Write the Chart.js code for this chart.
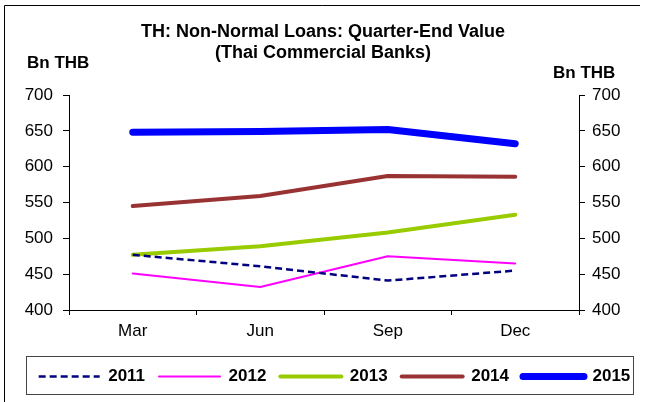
<!DOCTYPE html>
<html>
<head>
<meta charset="utf-8">
<script src="https://cdn.jsdelivr.net/npm/chart.js@4/dist/chart.umd.min.js"></script>
<style>
  html, body { margin: 0; padding: 0; background: #fff; }
  #wrap { width: 645px; height: 402px; position: relative; }
</style>
</head>
<body>
<div id="wrap"><canvas id="c" width="645" height="402"></canvas></div>
<script>
const categories = ['Mar', 'Jun', 'Sep', 'Dec'];
const seriesNames = ['2011', '2012', '2013', '2014', '2015'];
const v2011 = [477, 461, 441, 455];
const v2012 = [451, 432, 475, 465];
const v2013 = [477, 489, 508, 533];
const v2014 = [545, 559, 587, 586];
const v2015 = [648, 649, 652, 632];
const yTicks = [400, 450, 500, 550, 600, 650, 700];
const titleLines = ['TH: Non-Normal Loans: Quarter-End Value', '(Thai Commercial Banks)'];
const unitLabel = 'Bn THB';

const FONT = '"Liberation Sans", Arial, sans-serif';

const styles = [
  { color: '#000080', width: 2.5, dash: [7, 4], cap: 'butt' },
  { color: '#FF00FF', width: 2, dash: [], cap: 'round' },
  { color: '#99CC00', width: 4, dash: [], cap: 'round' },
  { color: '#993333', width: 4, dash: [], cap: 'round' },
  { color: '#0000FF', width: 7, dash: [], cap: 'round' }
];
const values = [v2011, v2012, v2013, v2014, v2015];

const datasets = seriesNames.map((name, i) => ({
  label: name,
  data: values[i],
  borderColor: styles[i].color,
  backgroundColor: styles[i].color,
  borderWidth: styles[i].width,
  borderDash: styles[i].dash,
  borderCapStyle: styles[i].cap,
  borderJoinStyle: 'round',
  pointRadius: 0,
  pointHoverRadius: 0,
  tension: 0,
  fill: false,
  yAxisID: 'y'
}));

const decor = {
  id: 'decor',
  afterDraw(chart) {
    const ctx = chart.ctx;
    ctx.save();
    // outer frame (top and left)
    ctx.strokeStyle = '#000';
    ctx.lineWidth = 1;
    ctx.beginPath();
    ctx.moveTo(4.5, 402);
    ctx.lineTo(4.5, 5.5);
    ctx.lineTo(640, 5.5);
    ctx.stroke();
    // titles
    ctx.fillStyle = '#000';
    ctx.textAlign = 'center';
    ctx.textBaseline = 'middle';
    ctx.font = 'bold 18px ' + FONT;
    const cx = 323;
    ctx.fillText(titleLines[0], cx, 32);
    ctx.fillText(titleLines[1], cx, 53);
    // unit labels
    ctx.font = 'bold 17px ' + FONT;
    ctx.textAlign = 'left';
    ctx.fillText(unitLabel, 27, 63);
    ctx.fillText(unitLabel, 553, 73);
    // legend frame
    const lg = chart.legend;
    ctx.strokeStyle = '#444';
    ctx.lineWidth = 1;
    ctx.strokeRect(lg.left + 2.5, lg.top + 2.5, lg.right - lg.left - 14, lg.bottom - lg.top - 3);
    ctx.restore();
  }
};

const yScaleCommon = {
  type: 'linear',
  min: 400,
  max: 700,
  afterBuildTicks(scale) { scale.ticks = yTicks.map(v => ({ value: v })); },
  grid: { display: true, drawOnChartArea: false, drawTicks: true, tickLength: 6, color: '#000' },
  border: { display: true, color: '#000', width: 1 },
  ticks: { color: '#000', font: { family: FONT, size: 17 } }
};

new Chart(document.getElementById('c'), {
  type: 'line',
  data: { labels: categories, datasets },
  options: {
    responsive: false,
    animation: false,
    devicePixelRatio: 1,
    layout: { padding: { left: 24, right: 0, top: 95, bottom: 7 } },
    plugins: {
      title: { display: false },
      tooltip: { enabled: false },
      legend: {
        display: true,
        position: 'bottom',
        fullSize: true,
        labels: {
          usePointStyle: true,
          pointStyle: 'line',
          pointStyleWidth: 61,
          padding: 14,
          color: '#000',
          font: { family: FONT, size: 17, weight: 'bold' },
          generateLabels(chart) {
            const items = Chart.defaults.plugins.legend.labels.generateLabels(chart);
            items.forEach(it => {
              const ds = chart.data.datasets[it.datasetIndex];
              it.lineDash = ds.borderDash;
              it.lineWidth = ds.borderWidth;
              it.lineCap = ds.borderCapStyle;
              it.strokeStyle = ds.borderColor;
              it.pointStyle = 'line';
            });
            return items;
          }
        }
      }
    },
    scales: {
      x: {
        type: 'category',
        offset: true,
        grid: { display: true, offset: true, drawOnChartArea: false, drawTicks: true, tickLength: 5, color: '#000' },
        border: { display: true, color: '#000', width: 1 },
        ticks: { color: '#000', padding: 6, font: { family: FONT, size: 17 }, maxRotation: 0 },
        afterFit(scale) { scale.height = 44; }
      },
      y: Object.assign({}, yScaleCommon, {
        position: 'left',
        ticks: Object.assign({}, yScaleCommon.ticks, { padding: 10 }),
        afterFit(scale) { scale.width = 45; }
      }),
      y2: Object.assign({}, yScaleCommon, {
        position: 'right',
        ticks: Object.assign({}, yScaleCommon.ticks, { padding: 7 }),
        afterFit(scale) { scale.width = 66; }
      })
    }
  },
  plugins: [decor]
});
</script>
</body>
</html>
